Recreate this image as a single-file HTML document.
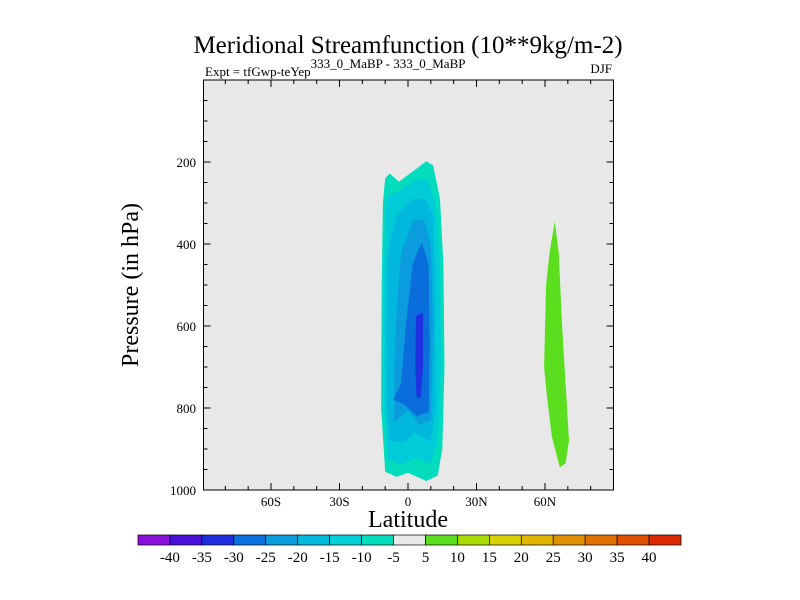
<!DOCTYPE html>
<html><head><meta charset="utf-8"><style>
body{margin:0;background:#fff}
svg{display:block;font-family:"Liberation Serif",serif}
</style></head><body>
<svg id="c" width="800" height="600" xmlns="http://www.w3.org/2000/svg">
<text x="408" y="53" font-size="25" text-anchor="middle">Meridional Streamfunction (10**9kg/m-2)</text>
<text x="205" y="76" font-size="13">Expt = tfGwp-teYep<tspan dy="-8">333_0_MaBP - 333_0_MaBP</tspan></text>
<text x="612" y="73" font-size="13" text-anchor="end">DJF</text>
<rect x="203.5" y="80" width="410" height="410" fill="#e8e8e8"/>
<g id="fills"></g>
<g id="axes"></g>
<rect x="203.5" y="80" width="410" height="410" fill="none" stroke="#000" stroke-width="1"/>
<text x="408" y="527" font-size="24" text-anchor="middle">Latitude</text>
<text transform="translate(138,285) rotate(-90)" font-size="24" text-anchor="middle">Pressure (in hPa)</text>
<g id="cbar"></g>
</svg>
<script>
const latTicks=[-60,-30,0,30,60];
const latLabels=["60S","30S","0","30N","60N"];
const presTicks=[200,400,600,800,1000];
const cbarLevels=[-40,-35,-30,-25,-20,-15,-10,-5,5,10,15,20,25,30,35,40];
const cbarColors=["#8a10dc","#4a10dc","#1e2ee0","#0a70e0","#0a9cdc","#00bcdc","#00d0d8","#00dcbc","#e8e8e8","#5ade1e","#a8dc00","#d8d000","#e0b400","#e09000","#e07000","#e05000","#dc2800"];
// contour regions: [level color, polygon of [lat, pressure]]
const contourM5=[[-10,240],[-8,228],[-4,248],[4,215],[8,198],[11,208],[14,290],[15.5,450],[16,700],[15,900],[13,965],[8,978],[0,958],[-5,968],[-10,955],[-11.8,800],[-11.5,500],[-11,300]];
const contourM10=[[-9.5,285],[-3,268],[4,240],[9,245],[12,300],[14,450],[14.5,700],[13,880],[10,935],[3,922],[-3,938],[-9,928],[-10.5,800],[-10.5,500],[-10,330]];
const contourM15=[[-9,420],[-5,330],[2,290],[8,290],[11,330],[12,500],[12,800],[10,880],[3,860],[-2,882],[-8,882],[-9.3,800],[-9.5,600]];
const contourM20=[[-5,560],[-3,420],[2,345],[7,340],[10,400],[11,600],[10,830],[5,840],[0,805],[-6,835],[-6,700]];
const contourM25=[[-3,740],[-1,600],[2,450],[6,395],[9,450],[9.5,650],[9,810],[4,820],[-2,790],[-6.5,780]];
const contourM30=[[3.5,575],[6.6,568],[6.6,700],[5.5,775],[3.8,775],[3.2,700]];
const contourP5=[[64.3,345],[66,420],[67.5,600],[70.5,880],[69,935],[66.5,945],[63,870],[61,780],[59.6,700],[60.5,500],[62,420]];
const regions=[[contourM5,"#00dcbc","neg5"],[contourM10,"#00ccd8","neg10"],[contourM15,"#00b8dc","neg15"],[contourM20,"#0a9cdc","neg20"],[contourM25,"#0a6ddc","neg25"],[contourM30,"#1e30e0","neg30"],[contourP5,"#5ade1e","pos5"]];

const NS="http://www.w3.org/2000/svg";
const X=lat=>408+lat/30*68.5;
const Y=p=>80+p/1000*410;
function mk(t,a,parent){const e=document.createElementNS(NS,t);for(const k in a)e.setAttribute(k,a[k]);parent.appendChild(e);return e;}
const fills=document.getElementById('fills');
regions.forEach(r=>{
  const e=mk('polygon',{points:r[0].map(q=>X(q[0]).toFixed(1)+','+Y(q[1]).toFixed(1)).join(' '),fill:r[1]},fills);
  
  
});
const ax=document.getElementById('axes');
for(let lat=-80;lat<=80;lat+=10){
  const major=latTicks.includes(lat);const L=major?7:4;
  [[490,490-L],[80,80+L]].forEach(s=>{
    const e=mk('line',{x1:X(lat),x2:X(lat),y1:s[0],y2:s[1],stroke:'#000'},ax);
    
    
  });
}
latTicks.forEach((lat,i)=>{
  const t=mk('text',{x:X(lat),y:506,'font-size':13,'text-anchor':'middle'},ax);t.textContent=latLabels[i];
  
  
});
for(let p=50;p<1000;p+=50){
  const major=presTicks.includes(p);const L=major?7:4;
  [[203.5,203.5+L],[613.5,613.5-L]].forEach(s=>{
    const e=mk('line',{x1:s[0],x2:s[1],y1:Y(p),y2:Y(p),stroke:'#000'},ax);
    
    
  });
}
presTicks.forEach(p=>{
  const t=mk('text',{x:196,y:Y(p)+5,'font-size':13,'text-anchor':'end'},ax);t.textContent=p;
  
  
});
const cb=document.getElementById('cbar');const bw=543/cbarColors.length;
cbarColors.forEach((c,i)=>{
  const e=mk('rect',{x:138+i*bw,y:535,width:bw,height:10,fill:c,stroke:'#000','stroke-width':0.7},cb);
  
  
});
cbarLevels.forEach((v,i)=>{
  const t=mk('text',{x:138+(i+1)*bw,y:562,'font-size':15,'text-anchor':'middle'},cb);t.textContent=v;
  
  
});
</script>
</body></html>
